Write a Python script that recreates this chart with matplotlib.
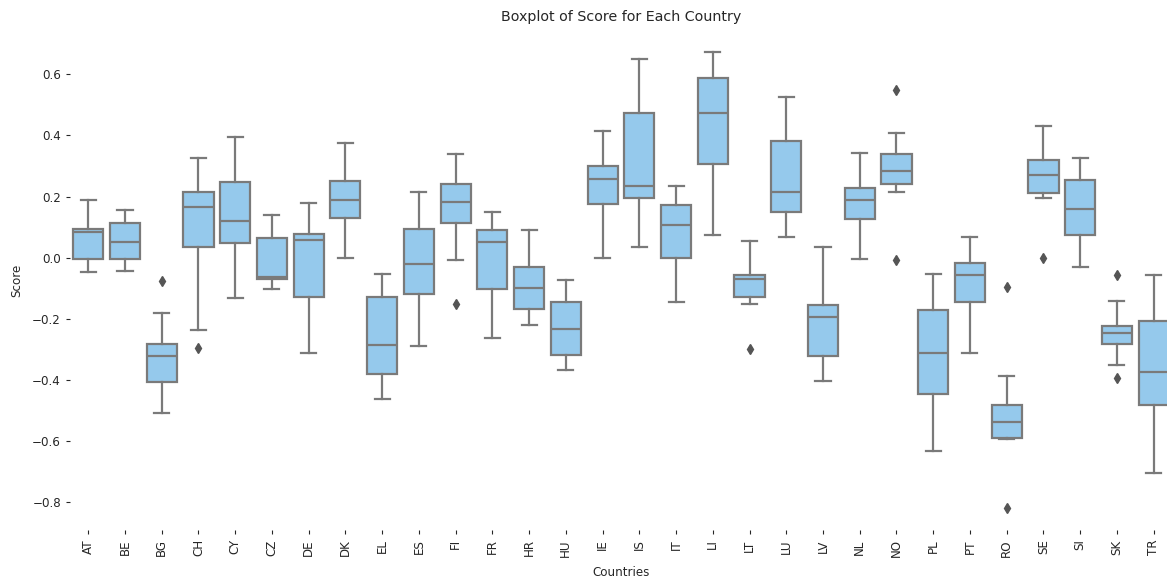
#import python libraries
import matplotlib
matplotlib.use("Agg")
import matplotlib.pyplot as plt
import numpy as np

#countries in the order they appear on the x axis
countries = ["AT", "BE", "BG", "CH", "CY", "CZ", "DE", "DK", "EL", "ES",
             "FI", "FR", "HR", "HU", "IE", "IS", "IT", "LI", "LT", "LU",
             "LV", "NL", "NO", "PL", "PT", "RO", "SE", "SI", "SK", "TR"]
#box statistics
whisker_low = [-0.047, -0.042, -0.507, -0.236, -0.133, -0.103, -0.313, 0.000, -0.463, -0.288,
               -0.008, -0.263, -0.219, -0.366, -0.001, 0.035, -0.146, 0.073, -0.150, 0.069,
               -0.403, -0.004, 0.215, -0.632, -0.313, -0.592, 0.194, -0.031, -0.352, -0.705]
q1 = [-0.003, -0.003, -0.407, 0.035, 0.049, -0.070, -0.127, 0.129, -0.380, -0.117,
      0.113, -0.102, -0.167, -0.317, 0.176, 0.194, -0.001, 0.305, -0.129, 0.150,
      -0.321, 0.125, 0.241, -0.447, -0.146, -0.588, 0.211, 0.073, -0.283, -0.481]
median = [0.084, 0.052, -0.321, 0.167, 0.121, -0.062, 0.058, 0.188, -0.286, -0.022,
          0.181, 0.052, -0.098, -0.232, 0.258, 0.236, 0.108, 0.474, -0.071, 0.216,
          -0.193, 0.190, 0.284, -0.313, -0.056, -0.536, 0.271, 0.159, -0.245, -0.373]
q3 = [0.095, 0.115, -0.283, 0.214, 0.248, 0.066, 0.077, 0.252, -0.130, 0.094,
      0.241, 0.090, -0.031, -0.146, 0.301, 0.474, 0.172, 0.589, -0.056, 0.383,
      -0.155, 0.229, 0.340, -0.172, -0.017, -0.481, 0.318, 0.253, -0.222, -0.207]
whisker_high = [0.188, 0.155, -0.180, 0.327, 0.395, 0.138, 0.180, 0.374, -0.052, 0.215,
                0.340, 0.150, 0.090, -0.072, 0.413, 0.649, 0.236, 0.671, 0.056, 0.525,
                0.035, 0.343, 0.407, -0.052, 0.069, -0.387, 0.429, 0.327, -0.142, -0.056]
outliers = {"BG": [-0.075], "CH": [-0.295], "FI": [-0.151], "LT": [-0.300],
            "NO": [0.548, -0.007], "RO": [-0.097, -0.817], "SE": [-0.002],
            "SK": [-0.058, -0.393]}

#build the stats list for bxp
stats = []
for i, c in enumerate(countries):
    stats.append({"label": c, "whislo": whisker_low[i], "q1": q1[i], "med": median[i],
                  "q3": q3[i], "whishi": whisker_high[i], "fliers": outliers.get(c, [])})

text_color = "#262626"
fig = plt.figure(figsize=(11.67, 5.81), dpi=100)
ax = fig.add_axes([0.0599, 0.0873, 0.9444, 0.8614])
line_color = "#7a7a7a"
ax.bxp(stats, positions=np.arange(len(countries)), widths=0.82, patch_artist=True,
       boxprops=dict(facecolor="#95c9ec", edgecolor=line_color, linewidth=1.6),
       medianprops=dict(color=line_color, linewidth=1.6),
       whiskerprops=dict(color=line_color, linewidth=1.6),
       capprops=dict(color=line_color, linewidth=1.6),
       flierprops=dict(marker="d", markerfacecolor="#555555", markeredgecolor="#555555",
                       markersize=5))
ax.set_xlim(-0.5, len(countries) - 0.5)
ax.set_ylim(-0.891, 0.745)
ax.set_yticks([-0.8, -0.6, -0.4, -0.2, 0.0, 0.2, 0.4, 0.6])
ax.set_xticks(np.arange(len(countries)))
ax.set_xticklabels(countries, rotation=90)
ax.tick_params(labelsize=8.6, length=3, width=0.8, color=text_color, labelcolor=text_color)
for s in ax.spines.values():
    s.set_visible(False)
ax.set_title("Boxplot of Score for Each Country", fontsize=10.3, pad=6, color=text_color)
ax.set_xlabel("Countries", fontsize=8.6, labelpad=6, color=text_color)
ax.set_ylabel("Score", fontsize=8.6, labelpad=6, color=text_color)
fig.savefig("out.png", dpi=100)
